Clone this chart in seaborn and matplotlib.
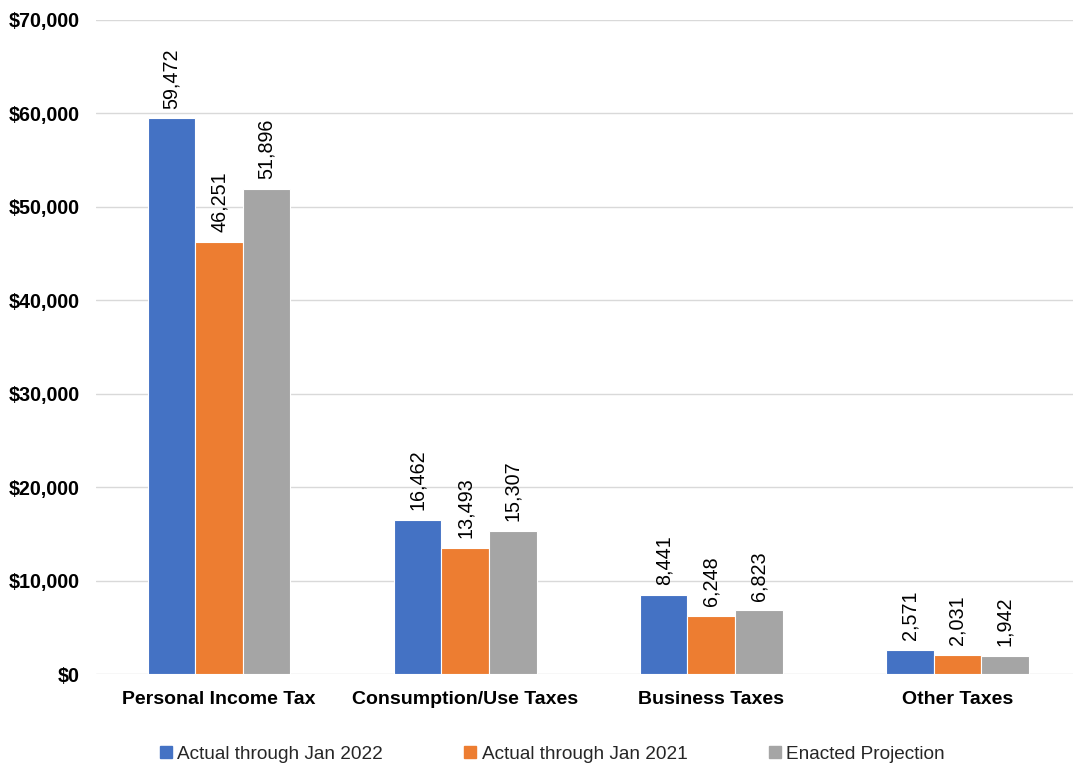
import matplotlib
matplotlib.use("Agg")
import matplotlib.pyplot as plt
from matplotlib.lines import Line2D
from matplotlib.ticker import FuncFormatter, MultipleLocator
import pandas as pd
import seaborn as sns

categories = ["Personal Income Tax", "Consumption/Use Taxes", "Business Taxes", "Other Taxes"]
series_names = ["Actual through Jan 2022", "Actual through Jan 2021", "Enacted Projection"]
actual_2022 = [59472, 16462, 8441, 2571]
actual_2021 = [46251, 13493, 6248, 2031]
enacted_projection = [51896, 15307, 6823, 1942]
colors = ["#4472C4", "#ED7D31", "#A5A5A5"]

rows = []
for name, vals in zip(series_names, [actual_2022, actual_2021, enacted_projection]):
    for cat, v in zip(categories, vals):
        rows.append({"category": cat, "series": name, "value": v})
df = pd.DataFrame(rows)

sns.set_theme(style="white")
plt.rcParams["font.family"] = ["Liberation Sans", "DejaVu Sans"]

fig = plt.figure(figsize=(10.73, 7.63), dpi=100)
ax = fig.add_axes([0.0895, 0.1166, 0.9105, 0.8572])

sns.barplot(data=df, x="category", y="value", hue="series", order=categories,
            hue_order=series_names, palette=colors, width=0.58, saturation=1,
            edgecolor="white", linewidth=0.8, legend=False, ax=ax, errorbar=None)

for container in ax.containers:
    labels = [f"{int(round(b.get_height())):,}" for b in container]
    ax.bar_label(container, labels=labels, rotation=90, padding=7,
                 fontsize=14.2, color="#000000")

ax.set_xlim(-0.5, 3.47)
ax.set_ylim(0, 70000)
ax.yaxis.set_major_locator(MultipleLocator(10000))
ax.yaxis.set_major_formatter(FuncFormatter(lambda v, p: f"${int(v):,}"))
ax.grid(axis="y", color="#D9D9D9", linewidth=1)
ax.set_axisbelow(True)
for s in ax.spines.values():
    s.set_visible(False)
ax.tick_params(axis="both", length=0)
ax.tick_params(axis="y", pad=12, labelsize=14.2)
ax.tick_params(axis="x", pad=12, labelsize=14)
for lbl in ax.get_xticklabels() + ax.get_yticklabels():
    lbl.set_fontweight("bold")
    lbl.set_color("#000000")
ax.set_xlabel("")
ax.set_ylabel("")

handles = [Line2D([0], [0], marker="s", linestyle="none", markersize=9,
                  markerfacecolor=c, markeredgecolor=c) for c in colors]
fig.legend(handles, series_names, loc="lower center", ncol=3, frameon=False,
           bbox_to_anchor=(0.514, -0.022), fontsize=13.7, handletextpad=0.2,
           columnspacing=4.2, handlelength=0.8)

fig.savefig("out.png", dpi=100)
